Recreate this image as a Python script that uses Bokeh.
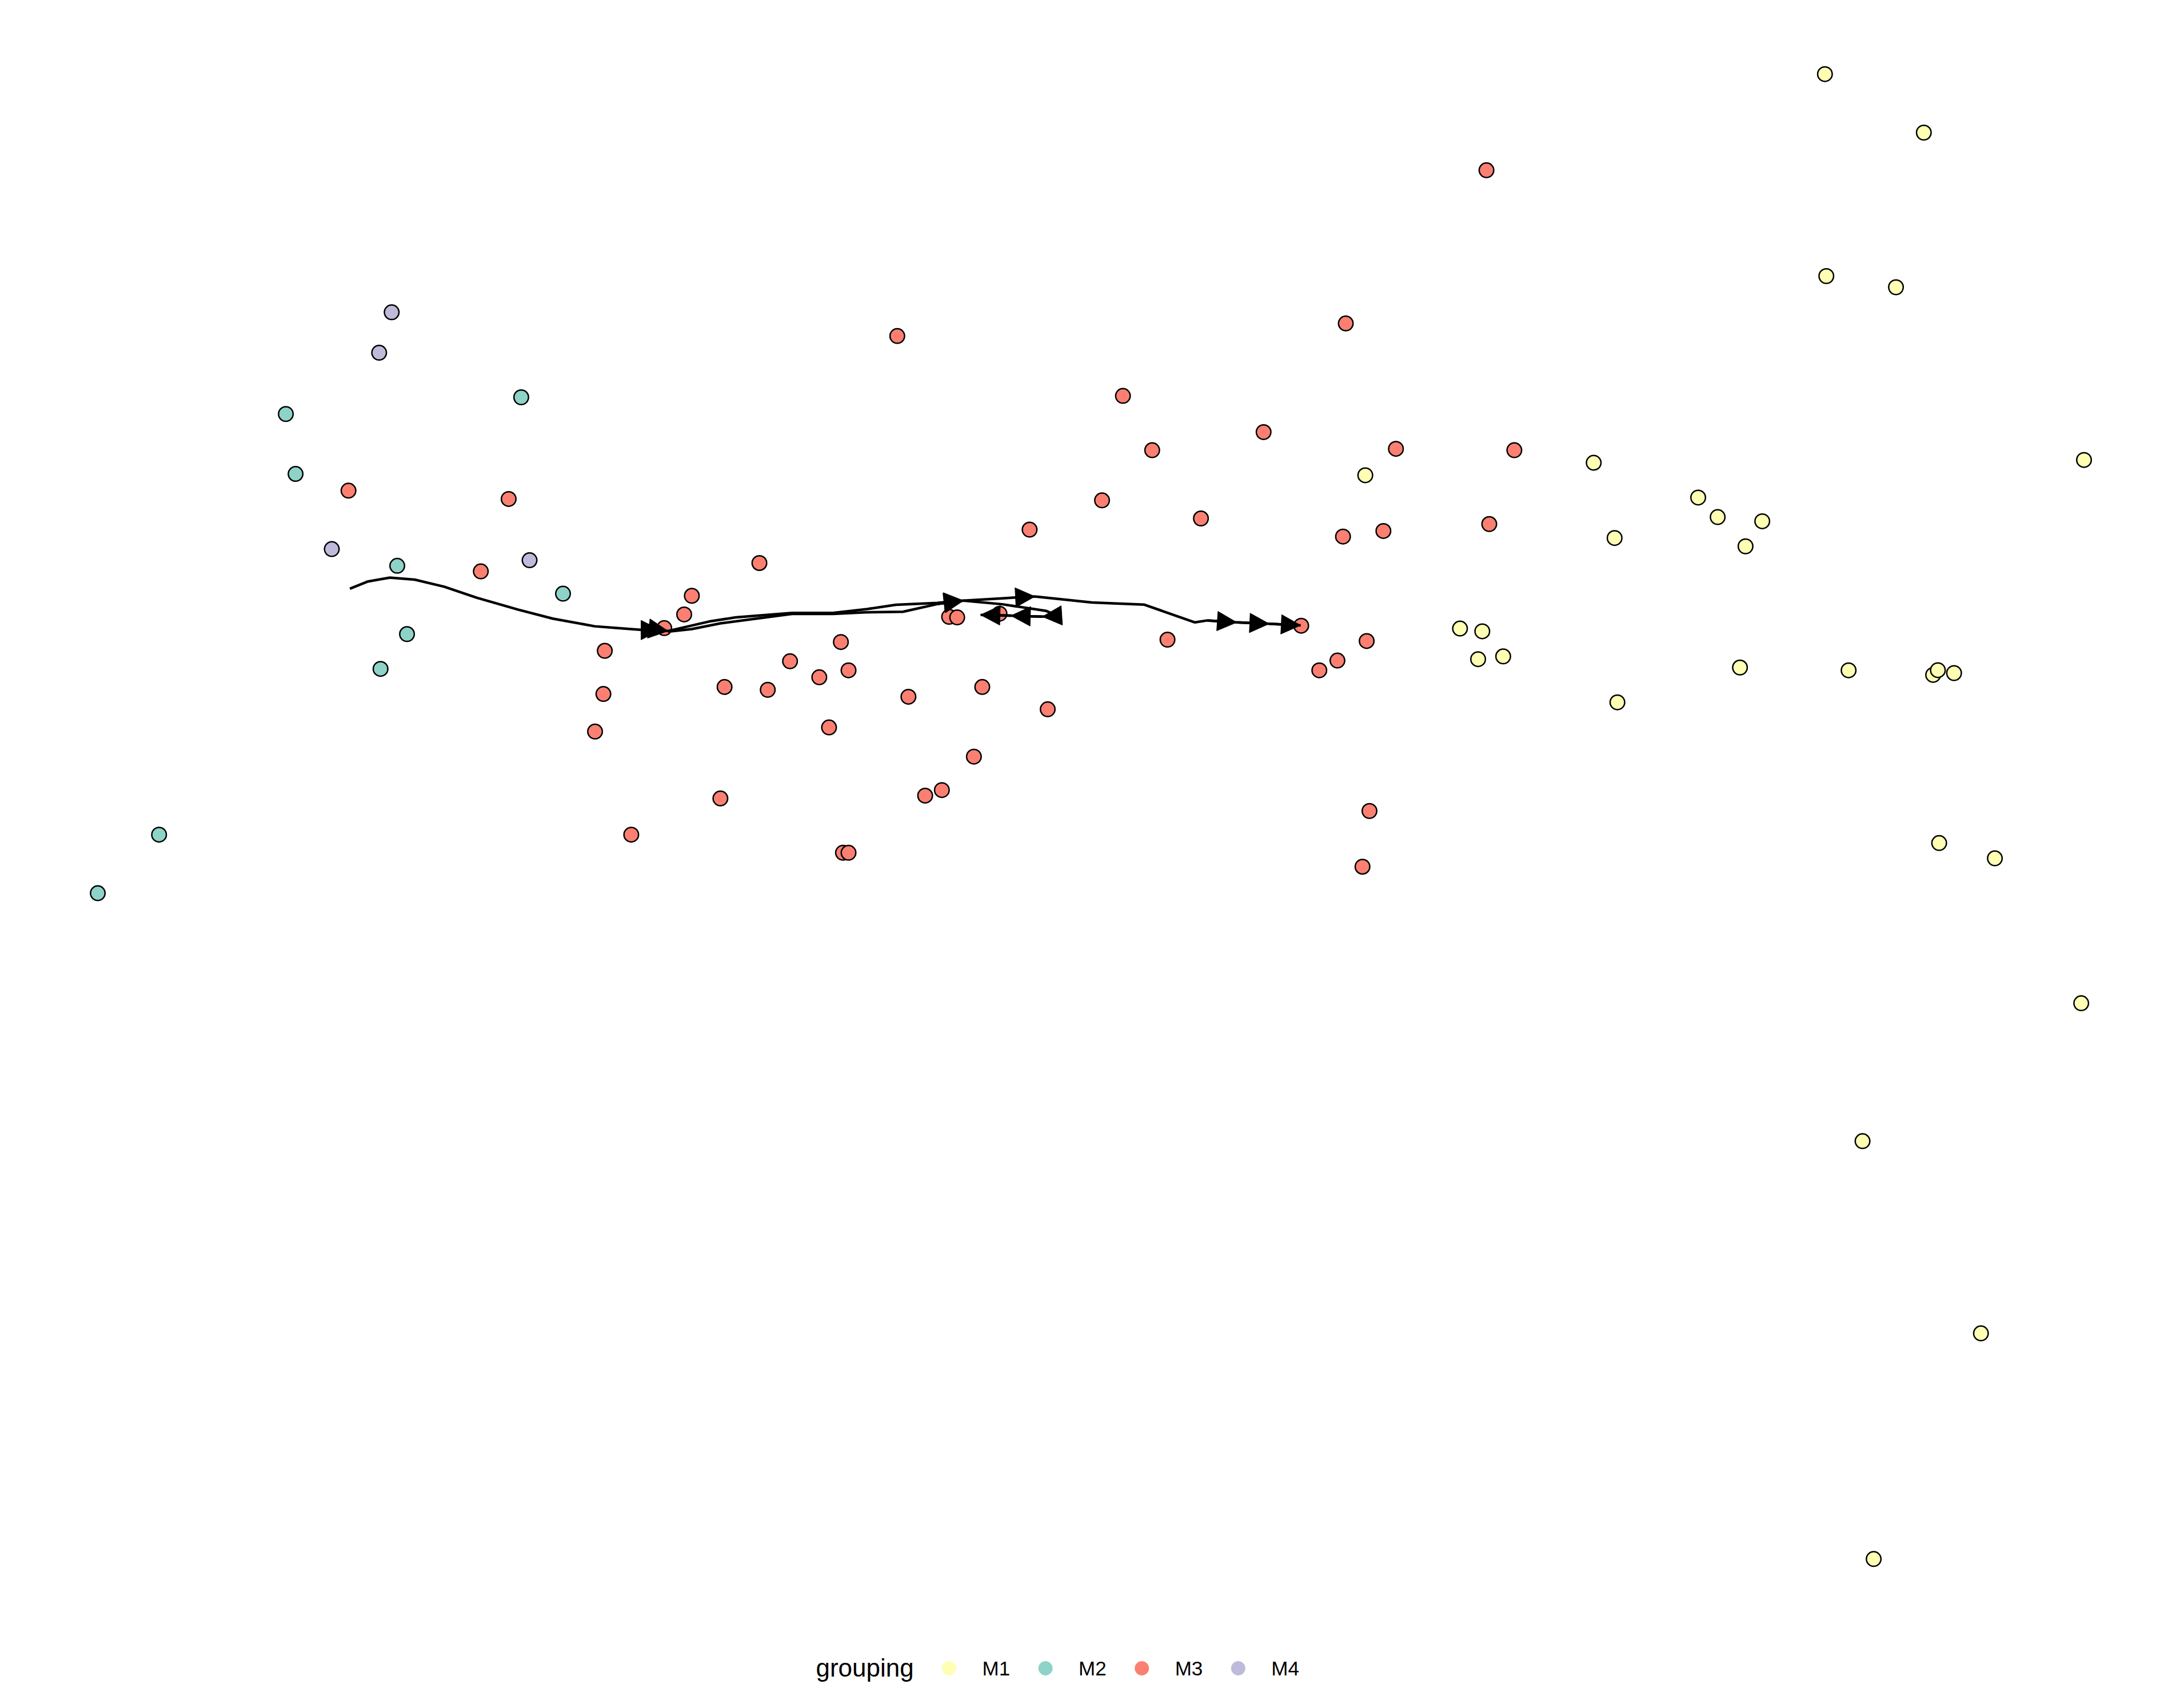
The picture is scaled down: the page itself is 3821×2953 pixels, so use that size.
from bokeh.plotting import figure
from bokeh.models import Range1d, ColumnDataSource, Arrow, NormalHead
from bokeh.core.properties import value
from bokeh.embed import file_html
from bokeh.resources import INLINE

# ---------------- data (embedding coordinates) ----------------
groups = ["M1", "M2", "M3", "M4"]
colors = ["#FFFFB3", "#8DD3C7", "#FB8072", "#BEBADA"]

m1_x = [1310, 1381, 1311, 1361, 1496, 980, 1144, 1219, 1233, 1265, 1159, 1253, 1048, 1064,
        1061, 1079, 1249, 1327, 1387.7, 1391.1, 1402.7, 1161, 1392, 1432, 1494, 1337, 1422, 1345]
m1_y = [53, 95, 198, 206, 330, 341, 332, 357, 371, 374, 386, 392, 451, 453,
        473, 471, 479, 481, 484.3, 480.9, 483, 504, 605, 616, 720, 819, 957, 1119]

m2_x = [205, 212, 374, 285, 404, 292, 273, 114, 70]
m2_y = [297, 340, 285, 406, 426, 455, 480, 599, 641]

m3_x = [1067, 644, 966, 806, 907, 827, 1002, 1087, 250, 365, 791, 862, 739, 964, 993, 1069,
        345, 545, 496.5, 491, 476.7, 681.2, 687, 717.4, 934, 838, 603.5, 434, 567, 981, 960,
        947, 609, 588, 520, 551, 705, 433, 652, 752, 595, 427, 699, 676, 664, 517, 453, 983,
        605, 609, 978]
m3_y = [122, 241, 232, 284, 310, 323, 322, 323, 352, 358, 359, 372, 380, 385, 381, 376,
        410, 404, 427.5, 440.9, 450.7, 442.6, 443, 440.4, 449, 459, 460.7, 467, 474.5, 460, 474,
        481, 481, 486, 493, 495, 493, 498, 500, 509, 522, 525, 543, 567, 571, 573, 599, 582,
        612, 612, 622]

m4_x = [281, 272, 238, 380]
m4_y = [224, 253, 394, 402]

# trajectory paths
paths = [
    ([251, 264, 279.7, 297.5, 318.7, 342, 372, 396.7, 426.8, 443.2, 462.4, 474, 479.4],
     [422.4, 417.2, 414.5, 415.9, 421, 428.9, 437.5, 443.9, 449.4, 450.7, 452.1, 452.1, 452.8]),
    ([479.4, 508.8, 528, 568.4, 597.8, 622.4, 643, 673, 691.5],
     [452.8, 446, 443, 439.8, 439.8, 437, 434, 432.6, 431]),
    ([479.4, 496.5, 517, 568.4, 597.8, 621, 648, 673, 691.5],
     [453.3, 451.4, 447.3, 440.5, 440.5, 439.4, 439, 433.4, 431]),
    ([691.5, 719.5, 731.1, 742.8, 783.8, 821.4, 857.7, 866.6, 887.7, 911, 933.6],
     [431, 429.3, 428.6, 428, 432.3, 433.9, 446.6, 445.2, 446.6, 447.6, 448.7]),
    ([691.5, 719.5, 751, 759, 748.2, 725.6, 703.8],
     [431, 433.6, 438.4, 441.8, 442.5, 441.8, 441.2]),
]
arrow_x0 = [462.4, 474, 673, 673, 731.1, 866.6, 887.7, 911, 759, 748.2, 725.6]
arrow_y0 = [452.1, 452.1, 432.6, 433.4, 428.6, 445.2, 446.6, 447.6, 441.8, 442.5, 441.8]
arrow_x1 = [474, 479.4, 691.5, 691.5, 742.8, 887.7, 911, 933.6, 748.2, 725.6, 703.8]
arrow_y1 = [452.1, 452.8, 431, 431, 428, 446.6, 447.6, 448.7, 442.5, 441.8, 441.2]

# ---------------- figure ----------------
S = 3821 / 1568.0
W, H = 3821, 2953
p = figure(width=W, height=H, output_backend="svg", toolbar_location=None,
           x_range=Range1d(0, W / S), y_range=Range1d(H / S, 0),
           min_border=0)
p.axis.visible = False
p.grid.visible = False
p.outline_line_color = None
p.background_fill_color = "white"
p.border_fill_color = "white"

for xs, ys, c in [(m1_x, m1_y, colors[0]), (m2_x, m2_y, colors[1]),
                  (m3_x, m3_y, colors[2]), (m4_x, m4_y, colors[3])]:
    p.scatter(xs, ys, size=25.5, fill_color=c, line_color="black", line_width=2.5)

for xs, ys in paths:
    p.line(xs, ys, line_color="black", line_width=4.5, line_join="round")

asrc = ColumnDataSource(dict(x_start=arrow_x0, y_start=arrow_y0, x_end=arrow_x1, y_end=arrow_y1))
p.add_layout(Arrow(end=NormalHead(size=34, fill_color="black", line_color="black", line_width=1),
                   x_start="x_start", y_start="y_start", x_end="x_end", y_end="y_end",
                   source=asrc, line_color="black", line_width=4.5))

# ---------------- legend (bottom, horizontal) ----------------
leg_title_x = 1427 / S
leg_title_y = 2917 / S
leg_key_x0 = 1660 / S
leg_key_y = 2918 / S
leg_step = 168.6 / S
leg_lab_dx = 58 / S

p.text([leg_title_x], [leg_title_y], text=["grouping"], text_font=value("Liberation Sans"),
       text_font_size="44px", text_color="black", text_align="left", text_baseline="middle")
key_x = [leg_key_x0 + i * leg_step for i in range(len(groups))]
p.scatter(key_x, [leg_key_y] * len(groups), size=25, fill_color=colors, line_color=None)
p.text([k + leg_lab_dx for k in key_x], [leg_key_y] * len(groups), text=groups,
       text_font=value("Liberation Sans"), text_font_size="35px", text_color="black",
       text_align="left", text_baseline="middle")

open("out.html", "w").write(file_html(p, INLINE))
